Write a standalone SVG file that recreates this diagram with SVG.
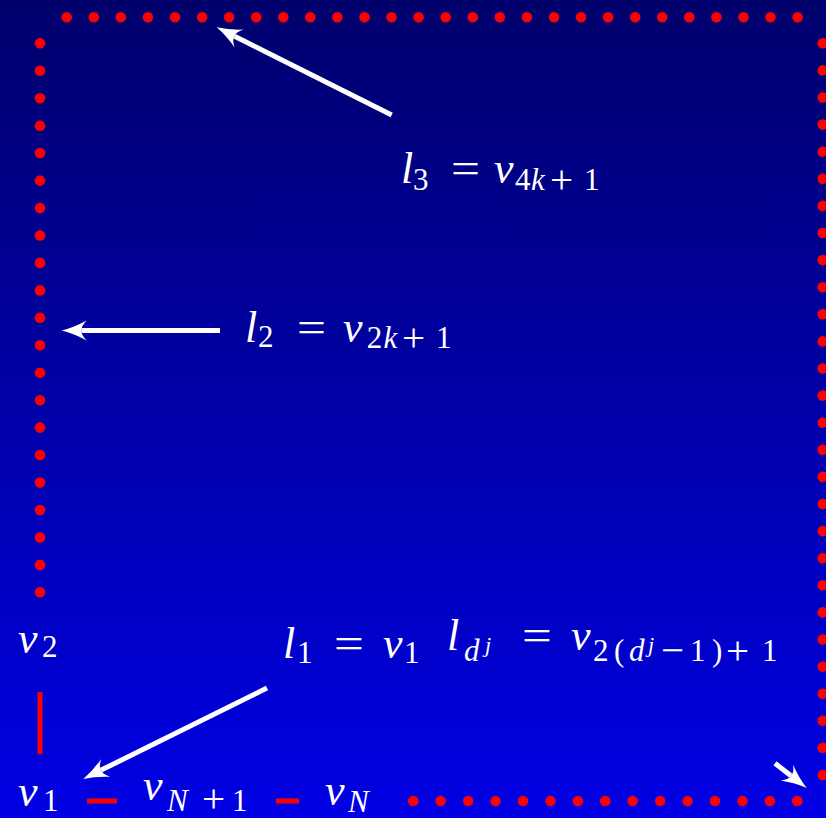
<svg xmlns="http://www.w3.org/2000/svg" width="826" height="818" viewBox="0 0 826 818">
<defs>
<linearGradient id="bg" x1="0" y1="0" x2="0" y2="1">
<stop offset="0" stop-color="#00006c"/>
<stop offset="1" stop-color="#0000e4"/>
</linearGradient>
<marker id="ah" markerUnits="userSpaceOnUse" viewBox="-6 -11 27 22" markerWidth="27" markerHeight="22" refX="0" refY="0" orient="auto" overflow="visible">
<path d="M20,0 Q8,-3 -5,-10 Q1,-4 0,0 Q1,4 -5,10 Q8,3 20,0 Z" fill="#fff"/>
</marker>
<style>
.dot{fill:#ff0000}
.t{font-family:"Liberation Serif","DejaVu Serif",serif;fill:#fff;font-size:44px}
.i{font-style:italic}
.s{font-size:31px}
.pl{font-size:41px}
.ss{font-size:22px}
.eq{font-family:"Liberation Serif","DejaVu Serif",serif;fill:#fff;font-size:44px}
.arr{stroke:#fff;stroke-width:5;fill:none;marker-end:url(#ah)}
.edge{stroke:#ff0000;stroke-width:5}
</style>
</defs>
<rect width="826" height="818" fill="url(#bg)"/>

<g id="dots-top">
<circle class="dot" cx="66.7" cy="17.3" r="5.3"/><circle class="dot" cx="93.8" cy="17.3" r="5.3"/><circle class="dot" cx="120.8" cy="17.3" r="5.3"/><circle class="dot" cx="147.9" cy="17.3" r="5.3"/><circle class="dot" cx="175" cy="17.3" r="5.3"/><circle class="dot" cx="202.1" cy="17.3" r="5.3"/><circle class="dot" cx="229.1" cy="17.3" r="5.3"/><circle class="dot" cx="256.2" cy="17.3" r="5.3"/><circle class="dot" cx="283.3" cy="17.3" r="5.3"/><circle class="dot" cx="310.3" cy="17.3" r="5.3"/><circle class="dot" cx="337.4" cy="17.3" r="5.3"/><circle class="dot" cx="364.5" cy="17.3" r="5.3"/><circle class="dot" cx="391.5" cy="17.3" r="5.3"/><circle class="dot" cx="418.6" cy="17.3" r="5.3"/><circle class="dot" cx="445.7" cy="17.3" r="5.3"/><circle class="dot" cx="472.8" cy="17.3" r="5.3"/><circle class="dot" cx="499.8" cy="17.3" r="5.3"/><circle class="dot" cx="526.9" cy="17.3" r="5.3"/><circle class="dot" cx="554" cy="17.3" r="5.3"/><circle class="dot" cx="581" cy="17.3" r="5.3"/><circle class="dot" cx="608.1" cy="17.3" r="5.3"/><circle class="dot" cx="635.2" cy="17.3" r="5.3"/><circle class="dot" cx="662.2" cy="17.3" r="5.3"/><circle class="dot" cx="689.3" cy="17.3" r="5.3"/><circle class="dot" cx="716.4" cy="17.3" r="5.3"/><circle class="dot" cx="743.5" cy="17.3" r="5.3"/><circle class="dot" cx="770.5" cy="17.3" r="5.3"/><circle class="dot" cx="797.6" cy="17.3" r="5.3"/>
</g>
<g id="dots-left">
<circle class="dot" cx="40" cy="43.3" r="5.3"/><circle class="dot" cx="40" cy="70.8" r="5.3"/><circle class="dot" cx="40" cy="98.2" r="5.3"/><circle class="dot" cx="40" cy="125.7" r="5.3"/><circle class="dot" cx="40" cy="153.1" r="5.3"/><circle class="dot" cx="40" cy="180.6" r="5.3"/><circle class="dot" cx="40" cy="208" r="5.3"/><circle class="dot" cx="40" cy="235.5" r="5.3"/><circle class="dot" cx="40" cy="262.9" r="5.3"/><circle class="dot" cx="40" cy="290.4" r="5.3"/><circle class="dot" cx="40" cy="317.8" r="5.3"/><circle class="dot" cx="40" cy="345.3" r="5.3"/><circle class="dot" cx="40" cy="372.7" r="5.3"/><circle class="dot" cx="40" cy="400.2" r="5.3"/><circle class="dot" cx="40" cy="427.6" r="5.3"/><circle class="dot" cx="40" cy="455.1" r="5.3"/><circle class="dot" cx="40" cy="482.5" r="5.3"/><circle class="dot" cx="40" cy="510" r="5.3"/><circle class="dot" cx="40" cy="537.4" r="5.3"/><circle class="dot" cx="40" cy="564.9" r="5.3"/><circle class="dot" cx="40" cy="592.3" r="5.3"/>
</g>
<g id="dots-right">
<circle class="dot" cx="822.7" cy="43.3" r="5.3"/><circle class="dot" cx="822.7" cy="70.4" r="5.3"/><circle class="dot" cx="822.7" cy="97.5" r="5.3"/><circle class="dot" cx="822.7" cy="124.6" r="5.3"/><circle class="dot" cx="822.7" cy="151.7" r="5.3"/><circle class="dot" cx="822.7" cy="178.8" r="5.3"/><circle class="dot" cx="822.7" cy="205.9" r="5.3"/><circle class="dot" cx="822.7" cy="233" r="5.3"/><circle class="dot" cx="822.7" cy="260.1" r="5.3"/><circle class="dot" cx="822.7" cy="287.2" r="5.3"/><circle class="dot" cx="822.7" cy="314.3" r="5.3"/><circle class="dot" cx="822.7" cy="341.4" r="5.3"/><circle class="dot" cx="822.7" cy="368.5" r="5.3"/><circle class="dot" cx="822.7" cy="395.6" r="5.3"/><circle class="dot" cx="822.7" cy="422.7" r="5.3"/><circle class="dot" cx="822.7" cy="449.8" r="5.3"/><circle class="dot" cx="822.7" cy="476.9" r="5.3"/><circle class="dot" cx="822.7" cy="504" r="5.3"/><circle class="dot" cx="822.7" cy="531.1" r="5.3"/><circle class="dot" cx="822.7" cy="558.2" r="5.3"/><circle class="dot" cx="822.7" cy="585.3" r="5.3"/><circle class="dot" cx="822.7" cy="612.4" r="5.3"/><circle class="dot" cx="822.7" cy="639.5" r="5.3"/><circle class="dot" cx="822.7" cy="666.6" r="5.3"/><circle class="dot" cx="822.7" cy="693.7" r="5.3"/><circle class="dot" cx="822.7" cy="720.8" r="5.3"/><circle class="dot" cx="822.7" cy="747.9" r="5.3"/><circle class="dot" cx="822.7" cy="775" r="5.3"/>
</g>
<g id="dots-bottom">
<circle class="dot" cx="413.3" cy="801" r="5.3"/><circle class="dot" cx="440.7" cy="801" r="5.3"/><circle class="dot" cx="468.2" cy="801" r="5.3"/><circle class="dot" cx="495.6" cy="801" r="5.3"/><circle class="dot" cx="523" cy="801" r="5.3"/><circle class="dot" cx="550.5" cy="801" r="5.3"/><circle class="dot" cx="577.9" cy="801" r="5.3"/><circle class="dot" cx="605.3" cy="801" r="5.3"/><circle class="dot" cx="632.7" cy="801" r="5.3"/><circle class="dot" cx="660.2" cy="801" r="5.3"/><circle class="dot" cx="687.6" cy="801" r="5.3"/><circle class="dot" cx="715" cy="801" r="5.3"/><circle class="dot" cx="742.5" cy="801" r="5.3"/><circle class="dot" cx="769.9" cy="801" r="5.3"/><circle class="dot" cx="797.3" cy="801" r="5.3"/>
</g>

<g id="connectors">
<line class="edge" x1="40" y1="692" x2="40" y2="754"/>
<line class="edge" x1="87" y1="801" x2="117" y2="801"/>
<line class="edge" x1="276" y1="801" x2="299" y2="801"/>
<line class="arr" x1="391.7" y1="115" x2="234.6" y2="36.3"/>
<line class="arr" x1="220" y1="330.5" x2="81.7" y2="330.5"/>
<line class="arr" x1="267" y1="688" x2="101.2" y2="770.1"/>
<line class="arr" x1="775" y1="763.3" x2="790.9" y2="775.7"/>
</g>

<g id="label-l3">
<text class="t"><tspan class="i" x="401" y="183">l</tspan><tspan class="s" x="413" y="190">3</tspan><tspan class="i" x="494" y="183">v</tspan><tspan class="s" x="515" y="190">4</tspan><tspan class="s i" x="531" y="190">k</tspan><tspan class="pl" x="550" y="193">+</tspan><tspan class="s" x="584" y="190">1</tspan></text>
<text class="eq" x="451" y="183" textLength="29" lengthAdjust="spacingAndGlyphs">=</text>
</g>
<g id="label-l2">
<text class="t"><tspan class="i" x="245" y="341.5">l</tspan><tspan class="s" x="258" y="347">2</tspan><tspan class="i" x="343" y="341.5">v</tspan><tspan class="s" x="366.7" y="348">2</tspan><tspan class="s i" x="383.4" y="348">k</tspan><tspan class="pl" x="402" y="351">+</tspan><tspan class="s" x="436" y="348">1</tspan></text>
<text class="eq" x="297" y="341.5" textLength="29" lengthAdjust="spacingAndGlyphs">=</text>
</g>
<g id="label-l1">
<text class="t"><tspan class="i" x="283" y="658">l</tspan><tspan class="s" x="297" y="663">1</tspan><tspan class="i" x="383" y="658">v</tspan><tspan class="s" x="404" y="663">1</tspan></text>
<text class="eq" x="334" y="658" textLength="30" lengthAdjust="spacingAndGlyphs">=</text>
</g>
<g id="label-ldj">
<text class="t"><tspan class="i" x="447" y="650">l</tspan><tspan class="s i" x="464" y="661">d</tspan><tspan class="ss i" x="485" y="652">j</tspan><tspan class="i" x="571" y="650">v</tspan><tspan class="s" x="593" y="661">2</tspan><tspan class="s" x="614" y="661">(</tspan><tspan class="s i" x="629" y="661">d</tspan><tspan class="ss i" x="648" y="652">j</tspan><tspan class="pl" x="661" y="664">−</tspan><tspan class="s" x="690" y="661">1</tspan><tspan class="s" x="712" y="661">)</tspan><tspan class="pl" x="726" y="664">+</tspan><tspan class="s" x="762" y="661">1</tspan></text>
<text class="eq" x="522" y="650" textLength="30" lengthAdjust="spacingAndGlyphs">=</text>
</g>
<g id="node-v2">
<text class="t"><tspan class="i" x="18" y="653">v</tspan><tspan class="s" x="42" y="657">2</tspan></text>
</g>
<g id="node-v1">
<text class="t"><tspan class="i" x="18" y="806">v</tspan><tspan class="s" x="43" y="811">1</tspan></text>
</g>
<g id="node-vN1">
<text class="t"><tspan class="i" x="143" y="800">v</tspan><tspan class="s i" x="167" y="811">N</tspan><tspan class="pl" x="202" y="812">+</tspan><tspan class="s" x="232" y="811">1</tspan></text>
</g>
<g id="node-vN">
<text class="t"><tspan class="i" x="325" y="805">v</tspan><tspan class="s i" x="348" y="812">N</tspan></text>
</g>
</svg>
